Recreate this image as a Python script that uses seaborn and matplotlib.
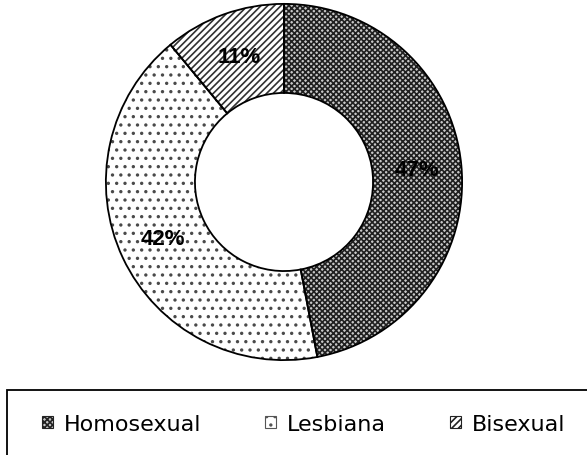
import matplotlib
matplotlib.use("Agg")
import matplotlib.pyplot as plt
from matplotlib.patches import Patch, Rectangle
import seaborn as sns

# datos del gráfico
categorias = ["Homosexual", "Lesbiana", "Bisexual"]
porcentajes = [47, 42, 11]
tramas = ["xxxxxx", "..", "/////"]
fondos = ["#c8c8c8", "white", "white"]
colores_trama = ["#202020", "#4a4a4a", "#303030"]

sns.set_theme(style="white")
plt.rcParams["font.family"] = ["Liberation Sans", "DejaVu Sans"]
plt.rcParams["text.color"] = "black"
plt.rcParams["hatch.linewidth"] = 1.2

fig = plt.figure(figsize=(5.87, 4.56), dpi=100)
fig.patch.set_facecolor("white")

# posicion del anillo (centro ~ (284,184) px, radio ~179 px)
ax = fig.add_axes([105 / 587, 94 / 456, 358 / 587, 358 / 456])

# capa de tramas
cuñas, textos, autotextos = ax.pie(
    porcentajes, startangle=90, counterclock=False, radius=1,
    autopct="%1.0f%%", pctdistance=0.75,
    wedgeprops=dict(width=0.5, linewidth=0),
    textprops=dict(fontsize=16, fontweight="bold", color="black"),
)
for cuña, trama, fondo, col in zip(cuñas, tramas, fondos, colores_trama):
    cuña.set_facecolor(fondo)
    cuña.set_hatch(trama)
    cuña.set_edgecolor(col)
for t in autotextos:
    t.set_zorder(5)

# capa de contornos
ax.pie(porcentajes, startangle=90, counterclock=False, radius=1,
       wedgeprops=dict(width=0.5, fill=False, edgecolor="black", linewidth=1.3))

ax.set_xlim(-1.005, 1.005)
ax.set_ylim(-1.005, 1.005)
ax.set_aspect("equal")
ax.axis("off")

# caja de la leyenda (recortada por el borde)
fig.patches.append(Rectangle((7 / 587, -0.1), 1.2, 0.1 + (456 - 391) / 456,
                             transform=fig.transFigure, fill=False,
                             edgecolor="black", linewidth=1.3))

manejadores = [Patch(facecolor=f, edgecolor=c, hatch=h, linewidth=0.8)
               for h, f, c in zip(tramas, fondos, ["#222222", "#555555", "#222222"])]
fig.legend(manejadores, categorias, ncol=3, frameon=False,
           loc="center left", bbox_to_anchor=(42 / 587, 1 - 425 / 456),
           borderaxespad=0, borderpad=0,
           prop=dict(family="DejaVu Sans", size=16),
           labelcolor="black",
           handlelength=0.5, handleheight=0.5, handletextpad=0.5,
           columnspacing=2.85)

fig.savefig("out.png", dpi=100)
